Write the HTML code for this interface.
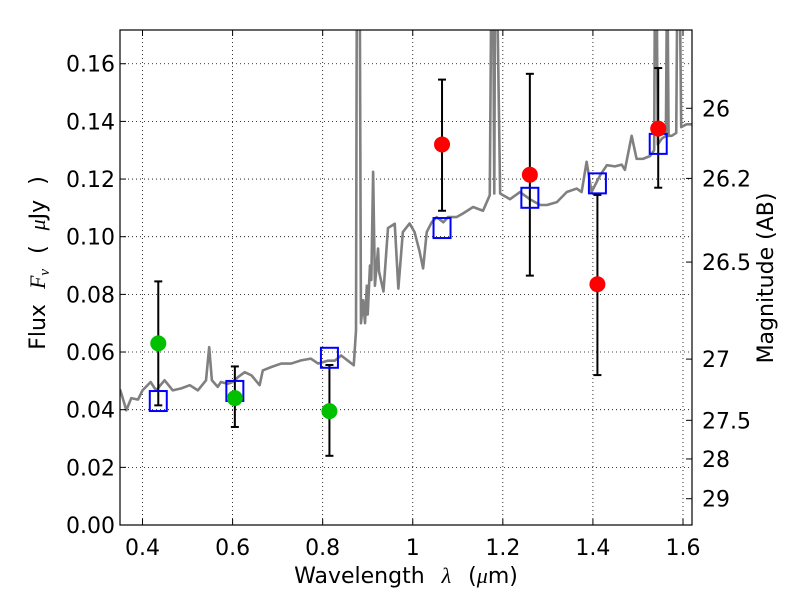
<!DOCTYPE html>
<html><head><meta charset="utf-8"><style>
html,body{margin:0;padding:0;background:#fff;}
svg text{font-family:"DejaVu Sans","Liberation Sans",sans-serif;}
</style></head><body>
<svg id="chart" width="800" height="600" xmlns="http://www.w3.org/2000/svg">
<rect width="800" height="600" fill="#fff"/>
<defs><clipPath id="clip"><rect x="120" y="30" width="572" height="495"/></clipPath></defs>
<g id="grid"></g>
<g id="series" clip-path="url(#clip)"></g>
<g id="axes"></g>
<text x="406" y="583" font-size="22" text-anchor="middle" word-spacing="10">Wavelength <tspan font-family="Liberation Serif" font-style="italic">λ</tspan> (<tspan font-family="Liberation Serif" font-style="italic">μ</tspan>m)</text>
<text transform="translate(45,263) rotate(-90)" font-size="22" text-anchor="middle" word-spacing="8">Flux <tspan font-family="Liberation Serif" font-style="italic">F<tspan font-size="15" dy="4">ν</tspan></tspan><tspan dy="-4"> ( </tspan><tspan font-family="Liberation Serif" font-style="italic">μ</tspan>Jy )</text>
<text transform="translate(773,278) rotate(-90)" font-size="22" text-anchor="middle">Magnitude (AB)</text>
</svg>
<script>
const xTicks=[0.4,0.6,0.8,1.0,1.2,1.4,1.6];
const xTickLabels=["0.4","0.6","0.8","1","1.2","1.4","1.6"];
const yTicks=[0,0.02,0.04,0.06,0.08,0.10,0.12,0.14,0.16];
const yTickLabels=["0.00","0.02","0.04","0.06","0.08","0.10","0.12","0.14","0.16"];
const magTicks=[26,26.2,26.5,27,27.5,28,29];
const magTickLabels=["26","26.2","26.5","27","27.5","28","29"];
const specLam=[0.350,0.353,0.364,0.375,0.39,0.40,0.418,0.43,0.449,0.467,0.486,0.505,0.523,0.541,0.548,0.554,0.567,0.574,0.589,0.60,0.612,0.627,0.642,0.66,0.667,0.686,0.708,0.73,0.752,0.774,0.79,0.812,0.827,0.841,0.856,0.869,0.874,0.876,0.882,0.885,0.890,0.894,0.898,0.90,0.905,0.908,0.912,0.916,0.923,0.925,0.935,0.945,0.96,0.968,0.978,0.993,1.004,1.015,1.023,1.031,1.042,1.053,1.068,1.078,1.097,1.111,1.134,1.156,1.171,1.175,1.178,1.181,1.183,1.186,1.194,1.216,1.238,1.26,1.283,1.298,1.32,1.342,1.364,1.375,1.386,1.397,1.416,1.431,1.449,1.464,1.471,1.486,1.497,1.511,1.527,1.536,1.538,1.541,1.544,1.553,1.562,1.565,1.568,1.575,1.585,1.588,1.592,1.596,1.608,1.62];
const specFlux=[0.047,0.0456,0.0398,0.044,0.0435,0.0467,0.0496,0.0467,0.0502,0.0467,0.0474,0.0485,0.0467,0.0502,0.0617,0.0502,0.0479,0.0496,0.049,0.0496,0.0513,0.053,0.0519,0.0485,0.0536,0.0548,0.056,0.056,0.0571,0.0577,0.056,0.057,0.057,0.0588,0.057,0.0554,0.0675,0.2,0.2,0.07,0.078,0.07,0.083,0.073,0.09,0.085,0.1225,0.083,0.0959,0.088,0.081,0.103,0.1045,0.082,0.1016,0.1046,0.1016,0.095,0.089,0.1016,0.105,0.1068,0.105,0.1068,0.1068,0.108,0.1103,0.109,0.1144,0.2,0.2,0.115,0.2,0.2,0.115,0.113,0.1155,0.113,0.111,0.111,0.112,0.1155,0.1167,0.1155,0.126,0.1155,0.1213,0.1248,0.1244,0.125,0.1232,0.135,0.127,0.127,0.128,0.13,0.2,0.2,0.132,0.134,0.135,0.2,0.135,0.135,0.136,0.2,0.2,0.138,0.139,0.139];
const greenLam=[0.435,0.605,0.815];
const greenFlux=[0.063,0.044,0.0395];
const greenLo=[0.0415,0.034,0.024];
const greenHi=[0.0845,0.055,0.0555];
const redLam=[1.065,1.26,1.41,1.545];
const redFlux=[0.132,0.1215,0.0835,0.1375];
const redLo=[0.109,0.0865,0.052,0.117];
const redHi=[0.1545,0.1565,0.1145,0.1585];
const modelLam=[0.435,0.605,0.815,1.065,1.26,1.41,1.545];
const modelFlux=[0.0430,0.0465,0.0580,0.1030,0.1135,0.1185,0.1322];

const X0=120,X1=692,Y0=525,Y1=30,XMIN=0.35,XMAX=1.62,YMIN=0,YMAX=0.1717;
const sx=v=>X0+(v-XMIN)/(XMAX-XMIN)*(X1-X0);
const sy=v=>Y0-(v-YMIN)/(YMAX-YMIN)*(Y0-Y1);
const magToFlux=m=>Math.pow(10,(23.9-m)/2.5);
const NS="http://www.w3.org/2000/svg";
function mk(tag,attrs,parent){const e=document.createElementNS(NS,tag);for(const k in attrs)e.setAttribute(k,attrs[k]);parent.appendChild(e);return e;}
const grid=document.getElementById('grid'),ser=document.getElementById('series'),ax=document.getElementById('axes');

xTicks.forEach((t,i)=>{
  const x=sx(t);
  const g=mk('line',{x1:x,x2:x,y1:Y1,y2:Y0,stroke:'#000','stroke-width':0.8,'stroke-dasharray':'1,3'},grid);
  
  
  mk('line',{x1:x,x2:x,y1:Y0,y2:Y0-6,stroke:'#000'},ax);
  mk('line',{x1:x,x2:x,y1:Y1,y2:Y1+6,stroke:'#000'},ax);
  const l=mk('text',{x:x,y:Y0+30,'font-size':22,'text-anchor':'middle'},ax);
  l.textContent=xTickLabels[i];
  
  
});
yTicks.forEach((t,i)=>{
  const y=sy(t);
  const g=mk('line',{x1:X0,x2:X1,y1:y,y2:y,stroke:'#000','stroke-width':0.8,'stroke-dasharray':'1,3'},grid);
  
  
  mk('line',{x1:X0,x2:X0+6,y1:y,y2:y,stroke:'#000'},ax);
  const l=mk('text',{x:X0-5,y:y+8,'font-size':22,'text-anchor':'end'},ax);
  l.textContent=yTickLabels[i];
  
  
});
magTicks.forEach((m,i)=>{
  const y=sy(magToFlux(m));
  mk('line',{x1:X1-6,x2:X1,y1:y,y2:y,stroke:'#000'},ax);
  const l=mk('text',{x:X1+10,y:y+8,'font-size':22},ax);
  l.textContent=magTickLabels[i];
  
  
});
const frame=mk('rect',{x:X0,y:Y1,width:X1-X0,height:Y0-Y1,fill:'none',stroke:'#000','stroke-width':1.2},ax);



const spec=mk('polyline',{points:specLam.map((l,i)=>sx(l)+','+sy(specFlux[i])).join(' '),fill:'none',stroke:'#808080','stroke-width':2.6,'stroke-linejoin':'round'},ser);



function errbar(l,lo,hi){
  const x=sx(l);
  const e=mk('g',{stroke:'#000','stroke-width':2},ser);
  
  
  mk('line',{x1:x,x2:x,y1:sy(lo),y2:sy(hi)},e);
  mk('line',{x1:x-4,x2:x+4,y1:sy(lo),y2:sy(lo)},e);
  mk('line',{x1:x-4,x2:x+4,y1:sy(hi),y2:sy(hi)},e);
}
greenLam.forEach((l,i)=>errbar(l,greenLo[i],greenHi[i]));
redLam.forEach((l,i)=>errbar(l,redLo[i],redHi[i]));
modelLam.forEach((l,i)=>{
  const s=mk('rect',{x:sx(l)-8.5,y:sy(modelFlux[i])-10,width:17,height:20,fill:'none',stroke:'#0000ff','stroke-width':2},ser);
  
  
});
greenLam.forEach((l,i)=>{
  const c=mk('circle',{cx:sx(l),cy:sy(greenFlux[i]),r:8,fill:'#00c000'},ser);
  
  
});
redLam.forEach((l,i)=>{
  const c=mk('circle',{cx:sx(l),cy:sy(redFlux[i]),r:8,fill:'#ff0000'},ser);
  
  
});
</script>
</body></html>
